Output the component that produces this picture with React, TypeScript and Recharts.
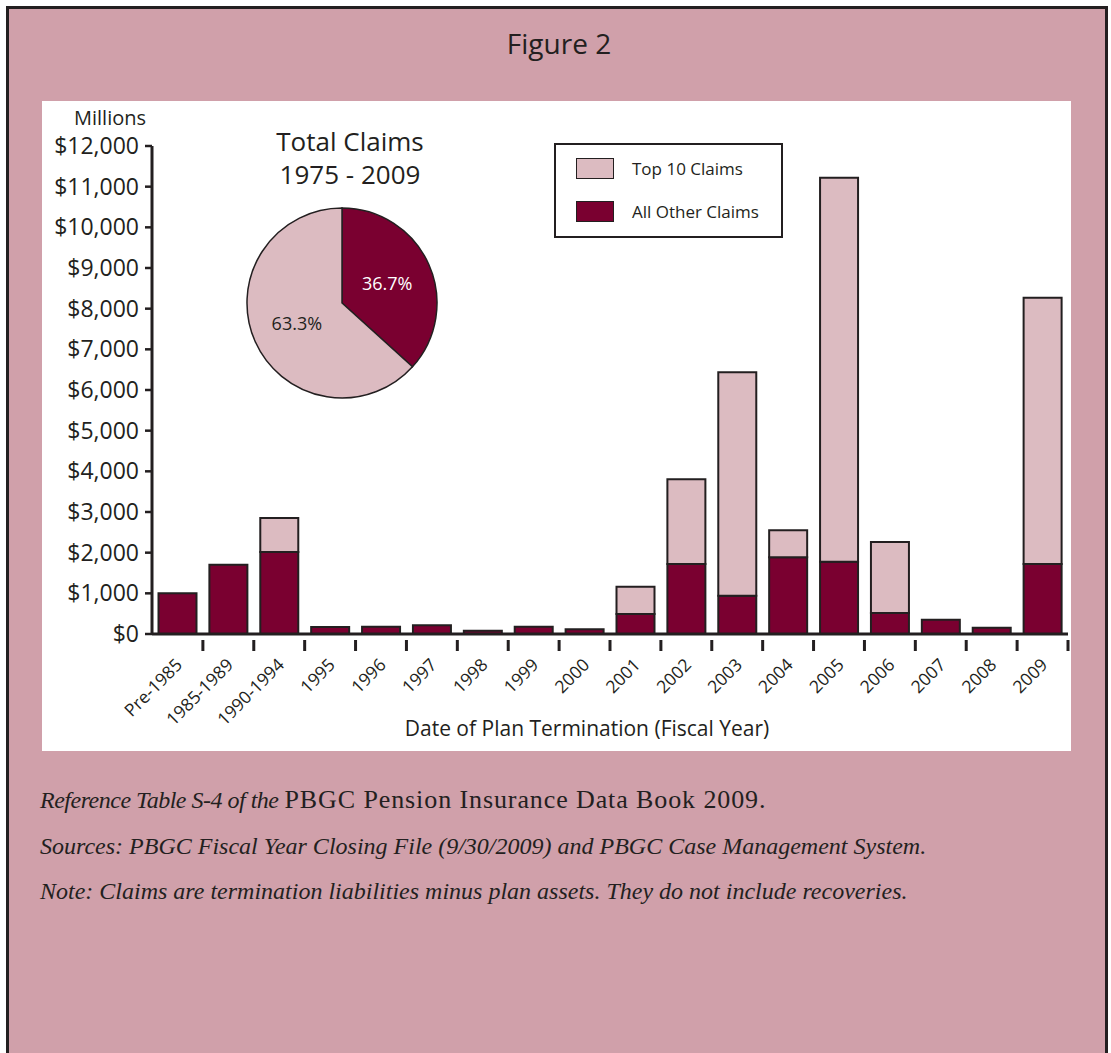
import { BarChart, Bar, XAxis, YAxis, PieChart, Pie, Cell } from 'recharts';

const categories = [
  'Pre-1985', '1985-1989', '1990-1994', '1995', '1996', '1997', '1998', '1999', '2000',
  '2001', '2002', '2003', '2004', '2005', '2006', '2007', '2008', '2009',
];
const allOtherClaims = [1000, 1705, 2015, 172, 180, 213, 82, 180, 115, 492, 1721, 942, 1885, 1779, 516, 352, 155, 1721];
const top10Claims = [0, 0, 837, 0, 0, 0, 0, 0, 0, 671, 2082, 5493, 664, 9439, 1746, 0, 0, 6549];
const yTicks = [0, 1000, 2000, 3000, 4000, 5000, 6000, 7000, 8000, 9000, 10000, 11000, 12000];

const pieNames = ['All Other Claims', 'Top 10 Claims'];
const pieShares = [36.7, 63.3];

const MAROON = '#7a0030';
const PINK = '#dcbbc1';
const FRAME = '#d0a0aa';
const INK = '#231f20';
const SANS = '"Open Sans", "Noto Sans", sans-serif';
const SERIF = '"Liberation Serif", serif';

const chartData = categories.map((c, i) => ({
  name: c,
  other: allOtherClaims[i],
  top10: top10Claims[i],
}));
const pieData = pieNames.map((n, i) => ({ name: n, value: pieShares[i] }));

const CHART_W = 1029;
const CHART_H = 650;
const PLOT_LEFT = 110;
const PLOT_RIGHT = 1026;
const band = (PLOT_RIGHT - PLOT_LEFT) / categories.length;

function XTick(props: any) {
  const { x, y, payload } = props;
  const ax = x + 6;
  const ay = y + 24;
  return (
    <g>
      <line x1={x + band / 2} y1={y - 2} x2={x + band / 2} y2={y + 9} stroke={INK} strokeWidth={3} />
      <text
        x={ax}
        y={ay}
        textAnchor="end"
        transform={`rotate(-45, ${ax}, ${ay})`}
        fontSize={17.5}
        fontFamily={SANS}
        fill={INK}
      >
        {payload.value}
      </text>
    </g>
  );
}

function LegendBox() {
  const row = (color: string, label: string) => (
    <div style={{ display: 'flex', alignItems: 'center', height: 21, marginBottom: 22 }}>
      <div style={{ width: 36, height: 19, background: color, border: `1.5px solid ${INK}`, marginRight: 18 }} />
      <span style={{ fontSize: 17, fontFamily: SANS, color: INK }}>{label}</span>
    </div>
  );
  return (
    <div
      style={{
        position: 'absolute',
        left: 554,
        top: 143,
        width: 229,
        height: 95,
        border: `2px solid ${INK}`,
        background: '#fff',
        boxSizing: 'border-box',
        padding: '13px 0 0 20px',
      }}
    >
      {row(PINK, 'Top 10 Claims')}
      {row(MAROON, 'All Other Claims')}
    </div>
  );
}

const RAD = Math.PI / 180;
function pieLabel(p: any) {
  const r = p.outerRadius * 0.52;
  const x = p.cx + r * Math.cos(-p.midAngle * RAD);
  const y = p.cy + r * Math.sin(-p.midAngle * RAD);
  return (
    <text
      x={x}
      y={y}
      textAnchor="middle"
      dominantBaseline="central"
      fontSize={18}
      fontFamily={SANS}
      fill={p.index === 0 ? '#fff' : INK}
    >
      {`${p.value}%`}
    </text>
  );
}

export default function App() {
  return (
    <div style={{ position: 'absolute', left: 0, top: 0, width: 1111, height: 1053, overflow: 'hidden', background: '#fff' }}>
      <div
        style={{
          position: 'absolute',
          left: 6,
          top: 6,
          width: 1102,
          height: 1080,
          boxSizing: 'border-box',
          border: `3px solid ${INK}`,
          background: FRAME,
        }}
      />
      <div
        style={{
          position: 'absolute',
          left: 0,
          width: 1118,
          top: 23,
          textAlign: 'center',
          fontFamily: SANS,
          fontSize: 28,
          lineHeight: '40px',
          color: INK,
        }}
      >
        Figure 2
      </div>

      <div style={{ position: 'absolute', left: 42, top: 101, width: CHART_W, height: CHART_H, background: '#fff' }}>
        <BarChart
          width={CHART_W}
          height={CHART_H}
          data={chartData}
          margin={{ top: 45, right: CHART_W - PLOT_RIGHT, left: 0, bottom: 0 }}
          barCategoryGap={6.5}
        >
          <XAxis
            dataKey="name"
            height={117}
            axisLine={{ stroke: INK, strokeWidth: 3 }}
            tickLine={false}
            interval={0}
            tick={<XTick />}
            label={{
              value: 'Date of Plan Termination (Fiscal Year)',
              position: 'insideBottom',
              offset: 15,
              dx: -23,
              fontSize: 21,
              fontFamily: SANS,
              fill: INK,
            }}
          />
          <YAxis
            width={PLOT_LEFT}
            domain={[0, 12000]}
            ticks={yTicks}
            interval={0}
            axisLine={{ stroke: INK, strokeWidth: 3 }}
            tickLine={{ stroke: INK, strokeWidth: 2.5 }}
            tickSize={7}
            tickMargin={6}
            tick={{ fontSize: 23, fontFamily: SANS, fill: INK }}
            tickFormatter={(v: number) => `$${v.toLocaleString('en-US')}`}
          />
          <Bar dataKey="other" name="All Other Claims" stackId="a" fill={MAROON} stroke={INK} strokeWidth={2} isAnimationActive={false} />
          <Bar dataKey="top10" name="Top 10 Claims" stackId="a" fill={PINK} stroke={INK} strokeWidth={2} isAnimationActive={false} />
        </BarChart>
      </div>

      <div
        style={{
          position: 'absolute',
          left: 74,
          top: 105,
          fontFamily: SANS,
          fontSize: 20,
          lineHeight: '26px',
          color: INK,
        }}
      >
        Millions
      </div>

      <LegendBox />

      <div
        style={{
          position: 'absolute',
          left: 200,
          width: 300,
          top: 125,
          textAlign: 'center',
          fontFamily: SANS,
          fontSize: 26,
          lineHeight: '33px',
          color: INK,
        }}
      >
        Total Claims
        <br />
        1975 - 2009
      </div>
      <div style={{ position: 'absolute', left: 222, top: 183 }}>
        <PieChart width={240} height={240} margin={{ top: 0, right: 0, bottom: 0, left: 0 }}>
          <Pie
            data={pieData}
            dataKey="value"
            cx={120}
            cy={120}
            outerRadius={95}
            startAngle={90}
            endAngle={-270}
            stroke={INK}
            strokeWidth={1.5}
            label={pieLabel}
            labelLine={false}
            isAnimationActive={false}
          >
            <Cell fill={MAROON} />
            <Cell fill={PINK} />
          </Pie>
        </PieChart>
      </div>

      <div
        style={{
          position: 'absolute',
          left: 40,
          top: 777,
          fontFamily: SERIF,
          fontSize: 24,
          lineHeight: '45.5px',
          color: INK,
          whiteSpace: 'nowrap',
        }}
      >
        <div>
          <i style={{ letterSpacing: -0.5 }}>Reference Table S-4 of the</i>{' '}
          <span style={{ fontSize: 26, letterSpacing: 0.9 }}>PBGC Pension Insurance Data Book 2009.</span>
        </div>
        <div>
          <i>Sources: PBGC Fiscal Year Closing File (9/30/2009) and PBGC Case Management System.</i>
        </div>
        <div>
          <i>Note: Claims are termination liabilities minus plan assets. They do not include recoveries.</i>
        </div>
      </div>
    </div>
  );
}
